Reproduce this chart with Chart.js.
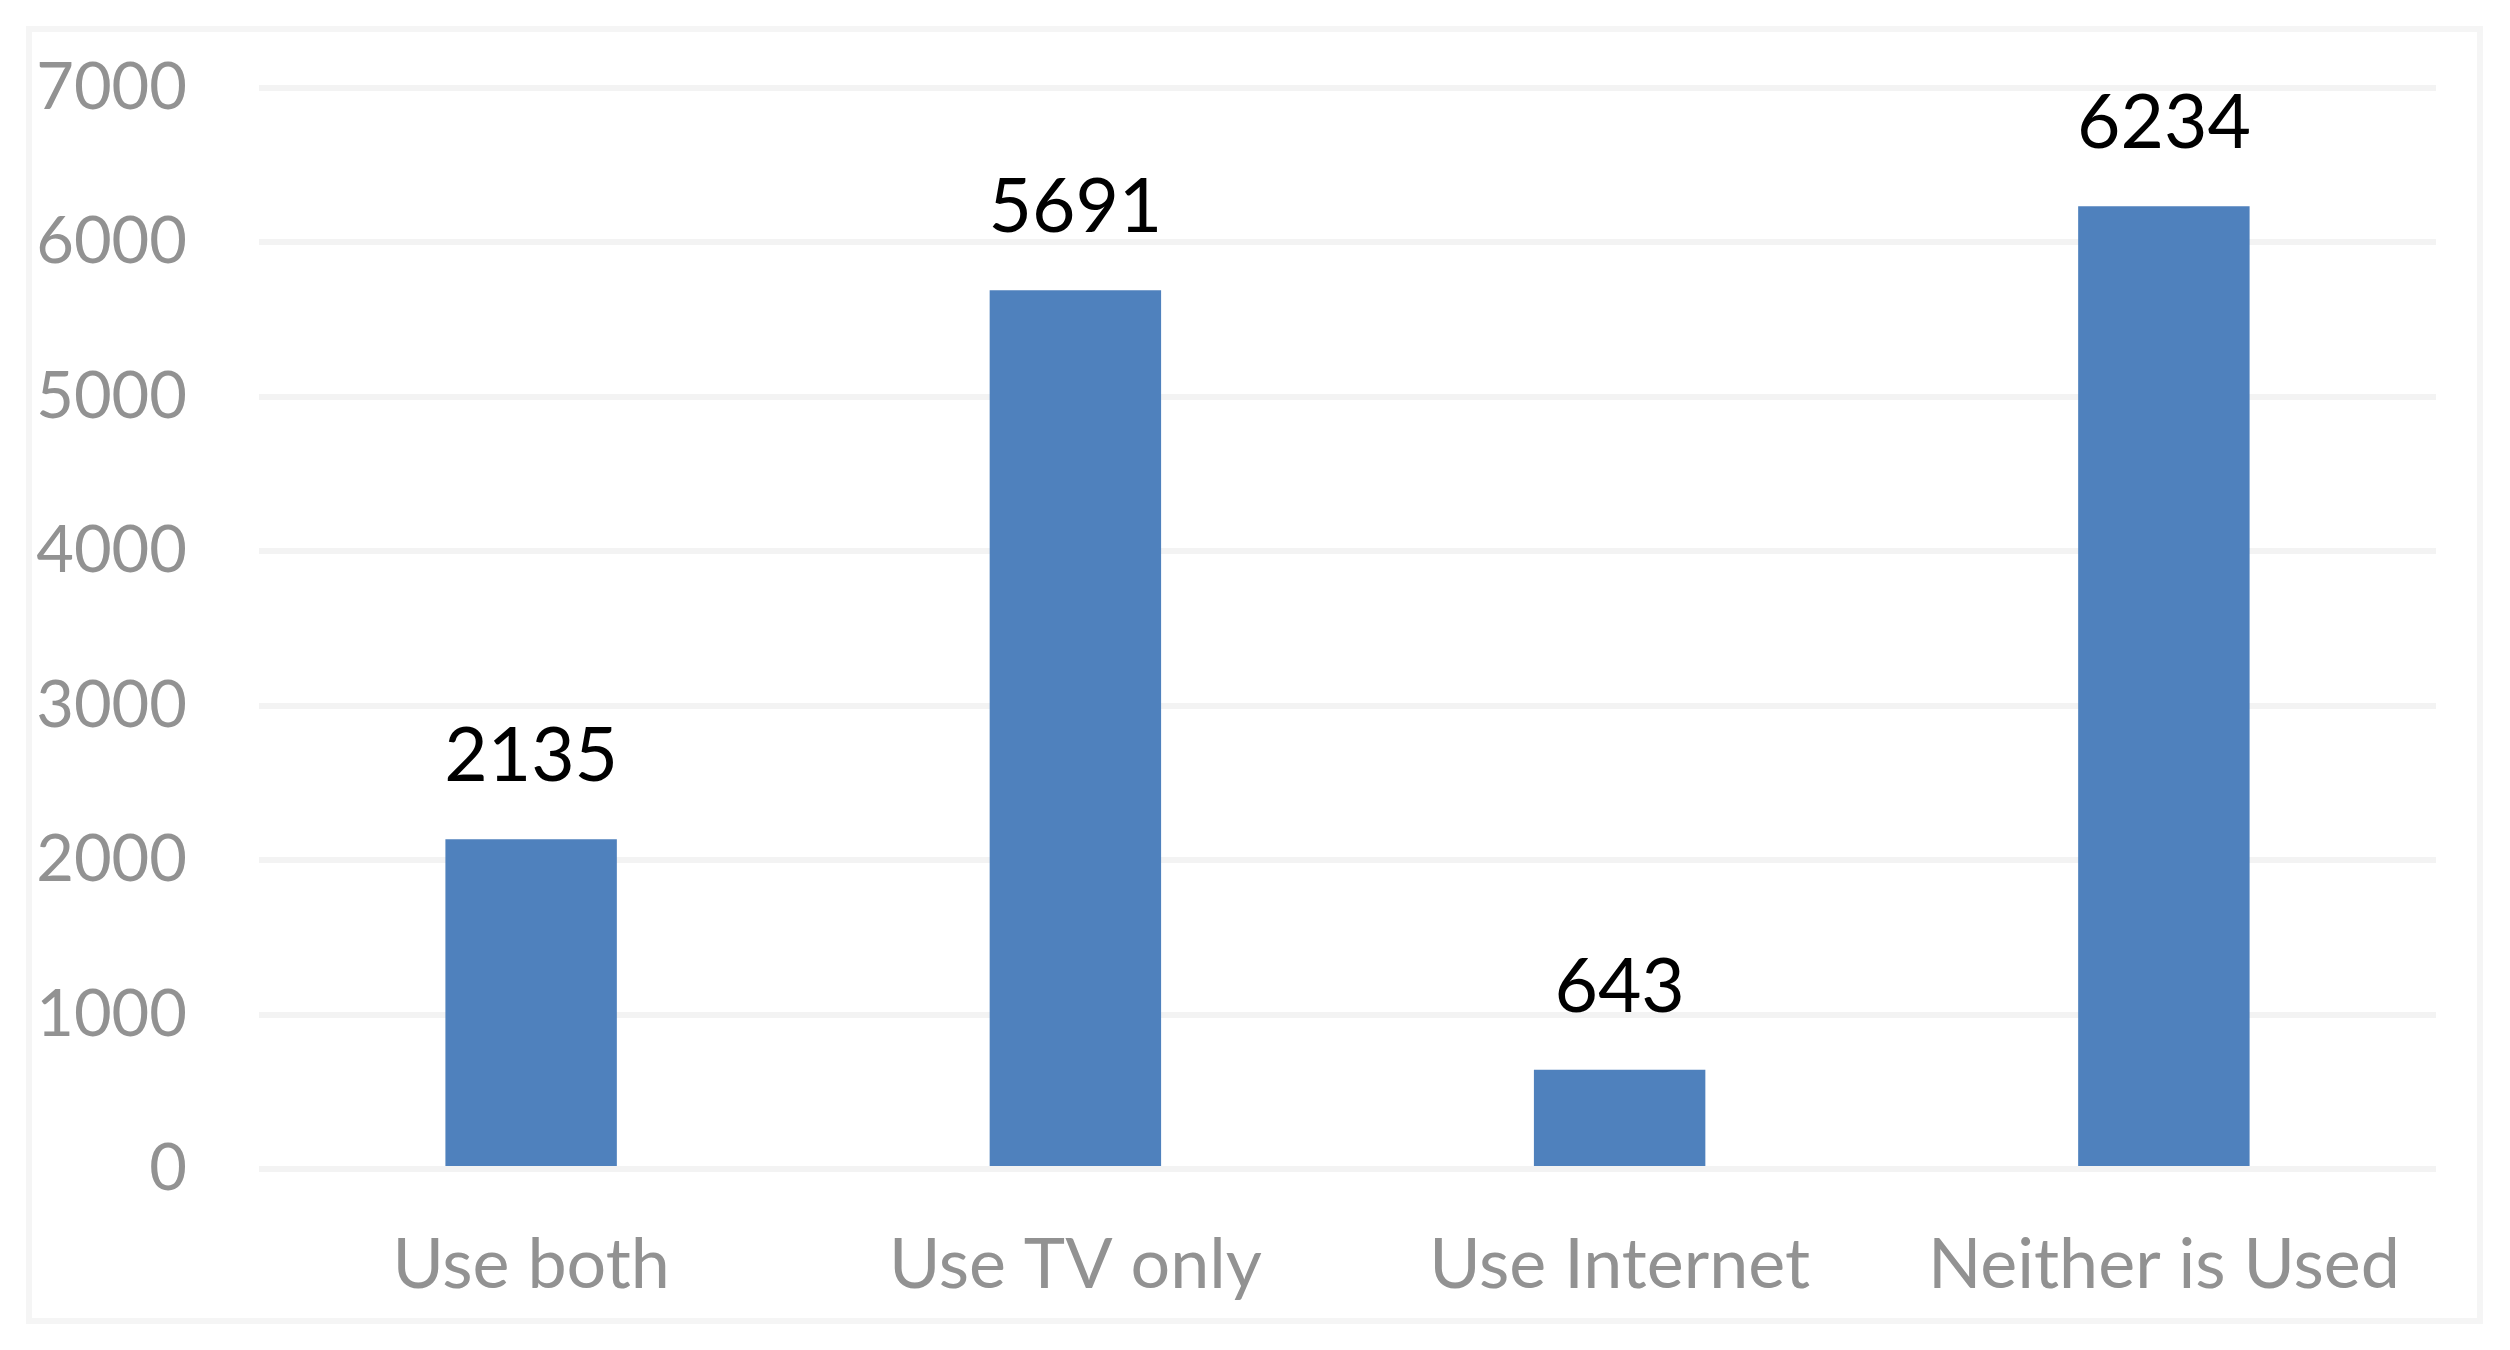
<!DOCTYPE html>
<html>
<head>
<meta charset="utf-8">
<script src="https://cdn.jsdelivr.net/npm/chart.js@4.4.0/dist/chart.umd.min.js"></script>
<style>
  html, body { margin: 0; padding: 0; background: #fff; }
  #wrap { width: 2510px; height: 1350px; }
</style>
</head>
<body>
<div id="wrap"><canvas id="myChart" width="2510" height="1350"></canvas></div>
<script>
const labels = ['Use both', 'Use TV only', 'Use Internet', 'Neither is Used'];
const values = [2135, 5691, 643, 6234];
const yTicks = [0, 1000, 2000, 3000, 4000, 5000, 6000, 7000];

const fontName = 'Lato';

// outer frame + white background
const frame = {
    id: 'frame',
    beforeDraw(chart) {
        const ctx = chart.ctx;
        ctx.save();
        ctx.fillStyle = '#fff';
        ctx.fillRect(0, 0, chart.width, chart.height);
        ctx.strokeStyle = '#F5F5F5';
        ctx.lineWidth = 6;
        ctx.strokeRect(29, 29, 2451, 1292);
        ctx.restore();
    }
};

// numbers above bars
const valueLabels = {
    id: 'valueLabels',
    afterDatasetsDraw(chart) {
        const ctx = chart.ctx;
        const meta = chart.getDatasetMeta(0);
        ctx.save();
        ctx.font = '75px ' + fontName;
        ctx.fillStyle = '#000';
        ctx.textAlign = 'center';
        ctx.textBaseline = 'alphabetic';
        meta.data.forEach(function (bar, i) {
            ctx.fillText(String(values[i]), bar.x, bar.y - 58);
        });
        ctx.restore();
    }
};

const data = {
    labels: labels,
    datasets: [{
        data: values,
        backgroundColor: '#4F81BD',
        borderWidth: 0,
        categoryPercentage: 1,
        barPercentage: 0.315
    }]
};

const config = {
    type: 'bar',
    data: data,
    options: {
        responsive: false,
        animation: false,
        layout: {
            padding: { top: 88, right: 74, left: 0, bottom: 0 }
        },
        plugins: {
            legend: { display: false },
            tooltip: { enabled: false }
        },
        scales: {
            x: {
                grid: { display: false, drawTicks: false },
                border: { display: false },
                ticks: {
                    color: '#929292',
                    font: { family: fontName, size: 70 },
                    padding: 54,
                    maxRotation: 0
                },
                afterFit(s) { s.height = 181; }
            },
            y: {
                min: 0,
                max: 7000,
                afterBuildTicks(s) { s.ticks = yTicks.map(v => ({ value: v })); },
                grid: { color: '#F3F3F3', lineWidth: 6, drawTicks: false },
                border: { display: false },
                ticks: {
                    color: '#929292',
                    font: { family: fontName, size: 65 },
                    padding: 72,
                    callback: (v) => String(v)
                },
                afterFit(s) {
                    s.width = 259;
                    s.paddingTop = 0;
                    s.paddingBottom = 0;
                }
            }
        }
    },
    plugins: [frame, valueLabels]
};

const myChart = new Chart(document.getElementById('myChart'), config);
</script>
</body>
</html>
